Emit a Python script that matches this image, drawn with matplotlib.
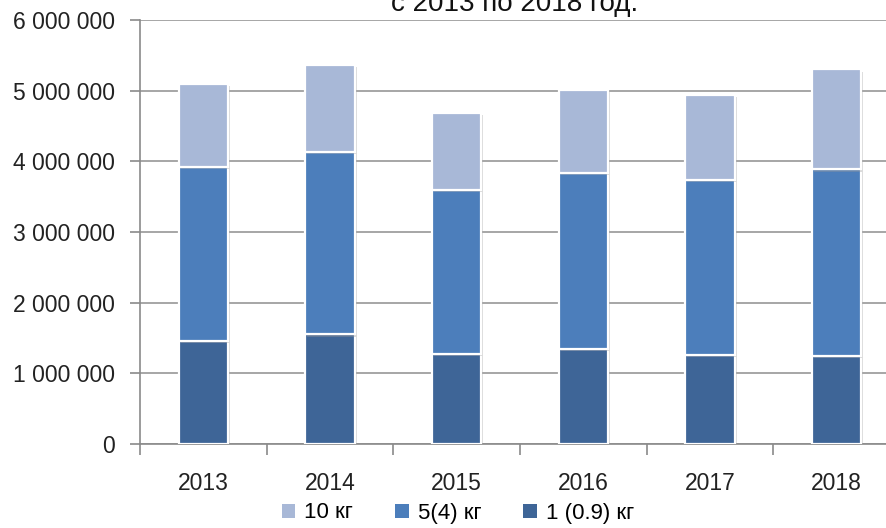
import matplotlib
matplotlib.use("Agg")
import matplotlib.pyplot as plt
import matplotlib.patheffects as pe
from matplotlib.patches import Patch
from matplotlib.ticker import FuncFormatter, FixedLocator
import numpy as np

years = ["2013", "2014", "2015", "2016", "2017", "2018"]
pack_1kg = [1460000, 1550000, 1280000, 1350000, 1260000, 1245000]
pack_5kg = [2460000, 2580000, 2310000, 2480000, 2470000, 2640000]
pack_10kg = [1180000, 1230000, 1090000, 1180000, 1210000, 1415000]

series_labels = ["1 (0.9) кг", "5(4) кг", "10 кг"]
colors = ["#3E6597", "#4C7EBB", "#A8B8D7"]

W, H = 887, 528
fig = plt.figure(figsize=(W / 100, H / 100), dpi=100)
ax = fig.add_axes([140 / W, 84 / H, 760 / W, 424 / H])

tick_font = ["Liberation Sans", "DejaVu Sans"]
narrow_font = ["DejaVu Sans Condensed", "Liberation Sans", "DejaVu Sans"]

x = np.arange(len(years))
bottom = np.zeros(len(years))
shadow = [pe.SimplePatchShadow(offset=(1.5, -1.5), shadow_rgbFace="#9a9a9a", alpha=0.35), pe.Normal()]
for vals, lab, col in zip([pack_1kg, pack_5kg, pack_10kg], series_labels, colors):
    bars = ax.bar(x, vals, bottom=bottom, width=0.39, color=col, edgecolor="white",
                  linewidth=1.6, label=lab, zorder=3)
    for b in bars:
        b.set_path_effects(shadow)
    bottom += np.array(vals)

ax.set_xlim(-0.5, len(years) - 0.5)
ax.set_ylim(0, 6000000)
ax.set_yticks(np.arange(0, 6000001, 1000000))
ax.yaxis.set_major_formatter(FuncFormatter(lambda v, p: f"{int(v):,}".replace(",", " ")))
ax.yaxis.grid(True, color="#9f9f9f", linewidth=1.3, zorder=0)
ax.set_axisbelow(True)

ax.set_xticks(x)
ax.set_xticklabels(years)
ax.xaxis.set_minor_locator(FixedLocator(np.arange(-0.5, len(years), 1.0)))
ax.tick_params(axis="x", which="major", length=0, pad=20, labelsize=16.5, labelcolor="#222222")
ax.tick_params(axis="x", which="minor", length=8, width=1.2, color="#8a8a8a")
ax.tick_params(axis="y", length=7, width=1.2, color="#8a8a8a", pad=11, labelsize=16.5, labelcolor="#222222")
for lbl in ax.get_xticklabels() + ax.get_yticklabels():
    lbl.set_fontfamily(tick_font)

for side in ["top", "right"]:
    ax.spines[side].set_visible(False)
ax.spines["left"].set_color("#8a8a8a")
ax.spines["left"].set_linewidth(1.2)
ax.spines["bottom"].set_color("#8a8a8a")
ax.spines["bottom"].set_linewidth(1.2)

fig.text(515 / W, 1 - 11 / H, "с 2013 по 2018 год.", ha="center", va="baseline",
         fontsize=20, family=narrow_font, color="#111111")

handles = [Patch(facecolor=colors[2]), Patch(facecolor=colors[1]), Patch(facecolor=colors[0])]
labels = [series_labels[2], series_labels[1], series_labels[0]]
fig.legend(handles, labels, loc="center", bbox_to_anchor=(458 / W, 1 - 513 / H), ncol=3,
           frameon=False, handlelength=0.6, handleheight=0.6, handletextpad=0.4,
           columnspacing=1.9, borderpad=0.0, prop={"family": narrow_font, "size": 16})

fig.savefig("out.png", dpi=100)
